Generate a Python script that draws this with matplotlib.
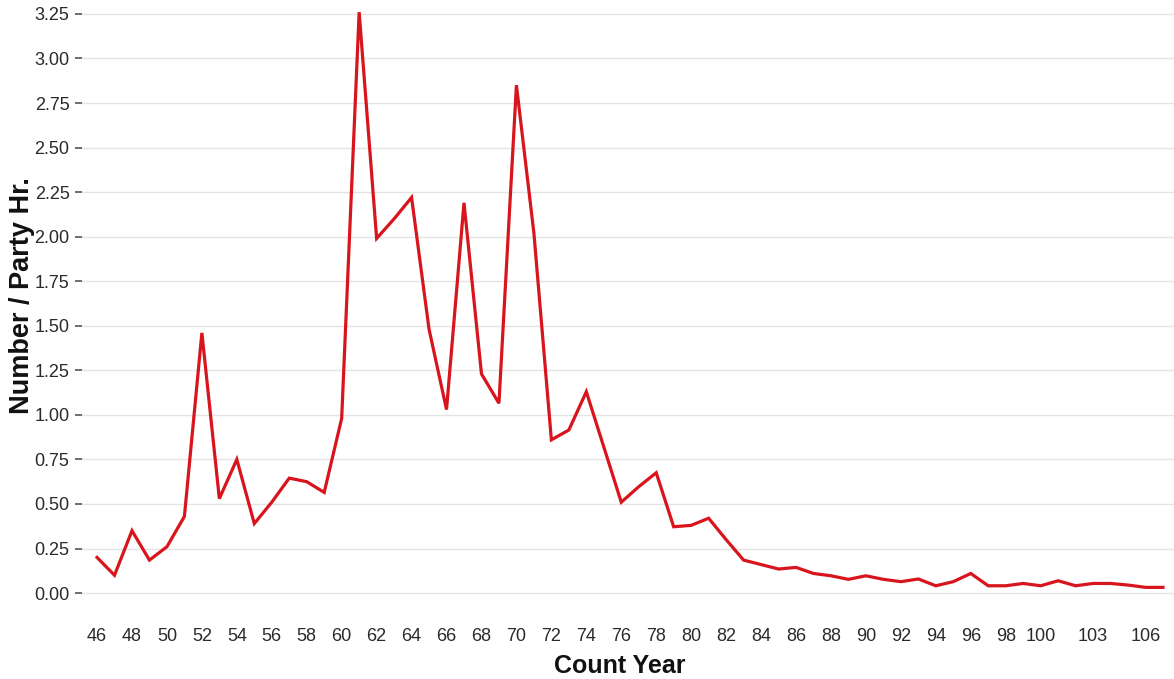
# Serie anual: numero por hora de grupo
import numpy as np
import matplotlib.pyplot as plt

# Datos (años de conteo 46 a 107)
anios = list(range(46, 108))
valores = [0.20, 0.10, 0.35, 0.185, 0.26, 0.43, 1.46, 0.53, 0.75, 0.39,
           0.51, 0.645, 0.625, 0.565, 0.98, 3.26, 1.99, 2.10, 2.22, 1.48,
           1.03, 2.19, 1.23, 1.065, 2.85, 2.02, 0.86, 0.915, 1.13, 0.82,
           0.51, 0.597, 0.675, 0.372, 0.38, 0.42, 0.30, 0.185, 0.16, 0.135,
           0.144, 0.11, 0.097, 0.077, 0.097, 0.077, 0.064, 0.079, 0.041, 0.064,
           0.11, 0.041, 0.041, 0.054, 0.041, 0.069, 0.041, 0.054, 0.054, 0.045,
           0.032, 0.032]
etiquetas_x = [str(a) for a in range(46, 101, 2)] + ["103", "106"]
yticks = np.arange(0, 3.26, 0.25)

pos = np.arange(len(anios))
pos_etiq = [anios.index(int(e)) for e in etiquetas_x]

plt.rcParams['font.family'] = ['Liberation Sans', 'DejaVu Sans']

fig = plt.figure(figsize=(11.74, 6.79), dpi=100)
ax = fig.add_axes([82 / 1174, 1 - 610 / 679, 1 - 82 / 1174, 605 / 679])

ax.plot(pos, valores, color="#d8141c", linewidth=2.3, solid_joinstyle="miter")

ax.set_xlim(-0.86, 61.63)
ax.set_ylim(-0.095, 3.30)
ax.set_yticks(yticks)
ax.set_yticklabels([f"{v:.2f}" for v in yticks])
ax.set_xticks(pos_etiq)
ax.set_xticklabels(etiquetas_x)

ax.grid(axis="y", color="#e4e4e4", linewidth=1)
ax.set_axisbelow(True)
for s in ax.spines.values():
    s.set_visible(False)

ax.tick_params(axis="y", length=5, width=1.2, color="#555555", pad=4,
               labelsize=13, labelcolor="#2a2a2a")
ax.tick_params(axis="x", length=0, pad=13, labelsize=13, labelcolor="#2a2a2a")

fig.text(620 / 1174, 1 - 666 / 679, "Count Year", ha="center", va="center",
         fontsize=18, fontweight="bold", color="#111111")
fig.text(22 / 1174, 1 - 296 / 679, "Number / Party Hr.", ha="center", va="center",
         rotation=90, fontsize=19.5, fontweight="bold", color="#111111")

fig.savefig("out.png", dpi=100)
